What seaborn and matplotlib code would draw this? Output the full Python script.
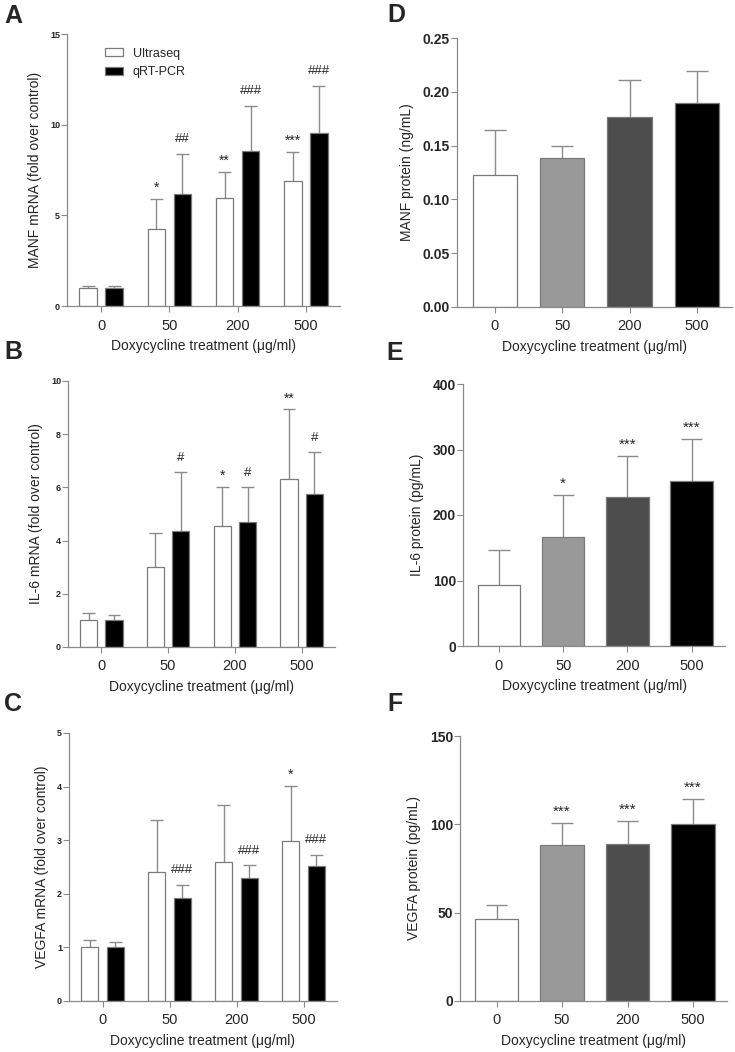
import matplotlib
matplotlib.use("Agg")
import matplotlib.pyplot as plt
import seaborn as sns
import pandas as pd
import numpy as np

sns.set_theme(style="white")
plt.rcParams['font.family'] = ['Liberation Sans', 'DejaVu Sans']

doses = ["0", "50", "200", "500"]
methods = ["Ultraseq", "qRT-PCR"]
xlabel = "Doxycycline treatment (\u03bcg/ml)"

# Panel A: MANF mRNA
manf_ultra = [1.0, 4.25, 5.95, 6.9]
manf_ultra_err = [0.1, 1.65, 1.45, 1.6]
manf_qrt = [1.0, 6.15, 8.55, 9.55]
manf_qrt_err = [0.1, 2.25, 2.5, 2.6]
manf_ultra_sig = ["", "*", "**", "***"]
manf_qrt_sig = ["", "##", "###", "###"]

# Panel B: IL-6 mRNA
il6_ultra = [1.0, 3.0, 4.55, 6.3]
il6_ultra_err = [0.28, 1.28, 1.47, 2.63]
il6_qrt = [1.0, 4.37, 4.71, 5.74]
il6_qrt_err = [0.2, 2.2, 1.31, 1.58]
il6_ultra_sig = ["", "", "*", "**"]
il6_qrt_sig = ["", "#", "#", "#"]

# Panel C: VEGFA mRNA
vegfa_ultra = [1.0, 2.4, 2.6, 2.99]
vegfa_ultra_err = [0.13, 0.98, 1.05, 1.03]
vegfa_qrt = [1.0, 1.93, 2.30, 2.51]
vegfa_qrt_err = [0.11, 0.24, 0.24, 0.22]
vegfa_ultra_sig = ["", "", "", "*"]
vegfa_qrt_sig = ["", "###", "###", "###"]

# Panel D-F: proteins
manf_prot = [0.1225, 0.1386, 0.1764, 0.1894]
manf_prot_err = [0.0424, 0.0114, 0.0349, 0.030]
manf_prot_sig = ["", "", "", ""]
il6_prot = [93, 166, 227, 252]
il6_prot_err = [53, 64, 63, 63.5]
il6_prot_sig = ["", "*", "***", "***"]
vegfa_prot = [46.4, 88.1, 88.7, 100.4]
vegfa_prot_err = [7.8, 12.5, 13.2, 13.8]
vegfa_prot_sig = ["", "***", "***", "***"]

prot_colors = ["#ffffff", "#999999", "#4d4d4d", "#000000"]
AX_COL = "#8a8a8a"
ERR_COL = "#8c8c8c"
W, H = 735, 1052

fig = plt.figure(figsize=(W / 100, H / 100), dpi=100)


def add_ax(l, r, t, b):
    return fig.add_axes([l / W, 1 - b / H, (r - l) / W, (b - t) / H])


def style(ax, ylim, yticks, ylab, ytick_size, xlim):
    sns.despine(ax=ax)
    for s in ["left", "bottom"]:
        ax.spines[s].set_color(AX_COL)
        ax.spines[s].set_linewidth(0.9)
    ax.set_ylim(*ylim)
    ax.set_xlim(*xlim)
    ax.set_yticks(yticks)
    ax.tick_params(axis="both", direction="out", color=AX_COL, length=4, width=0.8,
                   left=True, bottom=True)
    ax.tick_params(axis="y", labelsize=ytick_size, pad=1)
    ax.tick_params(axis="x", labelsize=10.5, pad=5)
    for lbl in ax.get_yticklabels():
        lbl.set_fontweight("bold")
    ax.set_ylabel(ylab, fontsize=10, labelpad=6)
    ax.set_xlabel(xlabel, fontsize=10, labelpad=5)


def errs_and_sig(ax, containers_data, capw, star_size):
    for cont, (errs, sigs) in zip(ax.containers, containers_data):
        for p, e, s in zip(cont.patches, errs, sigs):
            xc = p.get_x() + p.get_width() / 2
            top = p.get_height()
            ax.vlines(xc, top, top + e, color=ERR_COL, linewidth=1.0, zorder=1)
            ax.hlines(top + e, xc - capw / 2, xc + capw / 2, color=ERR_COL, linewidth=1.0, zorder=1)
            if s:
                if "*" in s:
                    ax.annotate(s, (xc, top + e), xytext=(0, 3), textcoords="offset points",
                                ha="center", va="bottom", fontsize=star_size)
                else:
                    ax.annotate(s, (xc, top + e), xytext=(0, 6), textcoords="offset points",
                                ha="center", va="bottom", fontsize=9.5)


def mrna_panel(ax, ultra, ultra_err, qrt, qrt_err, usig, qsig, ylim, yticks, ylab, legend=False):
    df = pd.DataFrame({
        "dose": doses * 2,
        "method": [methods[0]] * 4 + [methods[1]] * 4,
        "value": list(ultra) + list(qrt),
    })
    sns.barplot(data=df, x="dose", y="value", hue="method", order=doses, hue_order=methods,
                palette={"Ultraseq": "white", "qRT-PCR": "black"}, edgecolor="#7a7a7a",
                linewidth=0.9, width=0.76, gap=0.32, errorbar=None, ax=ax, zorder=2)
    errs_and_sig(ax, [(ultra_err, usig), (qrt_err, qsig)], capw=0.19, star_size=10)
    style(ax, ylim, yticks, ylab, 6.5, (-0.5, 3.5))
    if legend:
        ax.legend(loc="upper left", bbox_to_anchor=(0.14, 0.95), frameon=False, fontsize=9,
                  handlelength=1.4, handleheight=0.55, borderaxespad=0, borderpad=0,
                  handletextpad=0.8, labelspacing=0.55)
    elif ax.get_legend() is not None:
        ax.get_legend().remove()


def prot_panel(ax, vals, errs, sigs, ylim, yticks, ylab, fmt=None):
    df = pd.DataFrame({"dose": doses, "value": vals})
    sns.barplot(data=df, x="dose", y="value", hue="dose", order=doses, hue_order=doses,
                palette=prot_colors, edgecolor="#7a7a7a", linewidth=0.9, width=0.66,
                errorbar=None, legend=False, ax=ax, zorder=2)
    data = [([e], [s]) for e, s in zip(errs, sigs)]
    errs_and_sig(ax, data, capw=0.33, star_size=11)
    style(ax, ylim, yticks, ylab, 10, (-0.56, 3.52))
    if fmt:
        ax.set_yticklabels([fmt.format(t) for t in yticks], fontweight="bold")


axA = add_ax(67, 340, 34, 306)
mrna_panel(axA, manf_ultra, manf_ultra_err, manf_qrt, manf_qrt_err, manf_ultra_sig, manf_qrt_sig,
           (0, 15), [0, 5, 10, 15], "MANF mRNA (fold over control)", legend=True)
axB = add_ax(68, 335, 381, 647)
mrna_panel(axB, il6_ultra, il6_ultra_err, il6_qrt, il6_qrt_err, il6_ultra_sig, il6_qrt_sig,
           (0, 10), [0, 2, 4, 6, 8, 10], "IL-6 mRNA (fold over control)")
axC = add_ax(69, 337, 733, 1001)
mrna_panel(axC, vegfa_ultra, vegfa_ultra_err, vegfa_qrt, vegfa_qrt_err, vegfa_ultra_sig, vegfa_qrt_sig,
           (0, 5), [0, 1, 2, 3, 4, 5], "VEGFA mRNA (fold over control)")

axD = add_ax(457, 732, 38, 307)
prot_panel(axD, manf_prot, manf_prot_err, manf_prot_sig, (0, 0.25),
           [0, 0.05, 0.10, 0.15, 0.20, 0.25], "MANF protein (ng/mL)", fmt="{:.2f}")
axE = add_ax(463, 725, 384, 646)
prot_panel(axE, il6_prot, il6_prot_err, il6_prot_sig, (0, 400), [0, 100, 200, 300, 400],
           "IL-6 protein (pg/mL)")
axF = add_ax(460, 727, 736, 1001)
prot_panel(axF, vegfa_prot, vegfa_prot_err, vegfa_prot_sig, (0, 150), [0, 50, 100, 150],
           "VEGFA protein (pg/mL)")

for letter, (x, y) in {"A": (13, 16), "B": (13, 352), "C": (13, 704),
                       "D": (396, 15), "E": (395, 353), "F": (395, 704)}.items():
    fig.text(x / W, 1 - y / H, letter, fontsize=18, fontweight="bold", ha="center", va="center")

fig.savefig("out.png", dpi=100)
